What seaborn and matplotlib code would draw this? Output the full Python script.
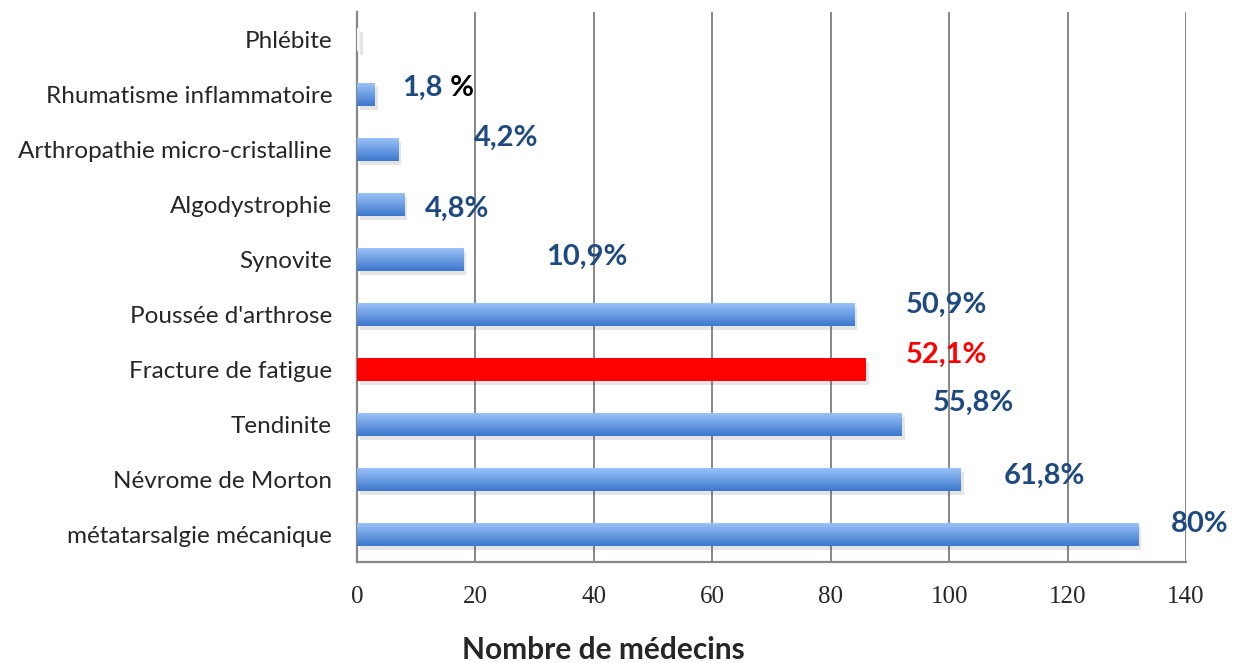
import matplotlib
matplotlib.use('Agg')
import matplotlib.pyplot as plt
import matplotlib.patheffects as pe
import numpy as np
import pandas as pd
import seaborn as sns

# ---------------------------------------------------------
# 1. DATA
# ---------------------------------------------------------
categories = ['Phlébite', 'Rhumatisme inflammatoire', 'Arthropathie micro-cristalline',
              'Algodystrophie', 'Synovite', "Poussée d'arthrose", 'Fracture de fatigue',
              'Tendinite', 'Névrome de Morton', 'métatarsalgie mécanique']
nb_medecins = [0.5, 3, 7, 8, 18, 84, 86, 92, 102, 132]
pourcentages = ['', '1,8', '4,2%', '4,8%', '10,9%', '50,9%', '52,1%', '55,8%', '61,8%', '80%']
x_ticks = [0, 20, 40, 60, 80, 100, 120, 140]

# manual label placement (x in data units, y shift in category units), like the Excel original
label_x = [0, 7.6, 19.8, 11.5, 32.0, 92.7, 92.7, 97.2, 109.2, 137.5]
label_dy = [0, -0.12, -0.22, 0.08, -0.04, -0.17, -0.27, -0.39, -0.07, -0.2]

df = pd.DataFrame({'categorie': categories, 'n': nb_medecins})

BLUE_TXT = '#1F4A80'
GRID = '#868686'

# ---------------------------------------------------------
# 2. FIGURE
# ---------------------------------------------------------
sns.set_style('white')
fig = plt.figure(figsize=(12.35, 6.63), dpi=100)
ax = fig.add_axes([357 / 1235, 1 - 562 / 663, (1186 - 357) / 1235, 550 / 663])

sns.barplot(data=df, y='categorie', x='n', orient='h', color='#6A9BE3',
            width=0.42, ax=ax, zorder=3)

# gradient + shadow on bars
grad = np.linspace(0, 1, 64).reshape(-1, 1)
blue_cmap = matplotlib.colors.LinearSegmentedColormap.from_list('b', ['#9EC4F9', '#3C78CD'])
for i, patch in enumerate(ax.patches):
    patch.set_linewidth(0)
    patch.set_path_effects([pe.SimplePatchShadow(offset=(2, -3), alpha=0.15, shadow_rgbFace='#555555'),
                            pe.Normal()])
    x0, y0 = patch.get_x(), patch.get_y()
    w, h = patch.get_width(), patch.get_height()
    if categories[i] == 'Fracture de fatigue':
        patch.set_facecolor('#FF0000')
        continue
    if categories[i] == 'Phlébite':
        patch.set_facecolor('#F4F4F4')
        continue
    im = ax.imshow(grad, cmap=blue_cmap, aspect='auto', extent=[x0, x0 + w, y0 + h, y0],
                   zorder=4, interpolation='bicubic')
    im.set_clip_path(patch)

# ---------------------------------------------------------
# 3. AXES
# ---------------------------------------------------------
ax.set_xlim(0, 140)
ax.set_ylim(len(categories) - 0.5, -0.5)
ax.set_xticks(x_ticks)
ax.set_xticklabels([str(t) for t in x_ticks], family='Liberation Serif', fontsize=18)
ax.tick_params(axis='x', direction='out', length=7, width=1.3, color=GRID, pad=10)
ax.set_yticks(range(len(categories)))
ax.set_yticklabels(categories, family='Lato', fontsize=17.5)
ax.tick_params(axis='y', length=0, pad=18)
ax.set_yticks(np.arange(-0.5, len(categories), 1), minor=True)
ax.tick_params(axis='y', which='minor', direction='out', length=9, width=1.3, color=GRID)
ax.set_xlabel('')
ax.set_ylabel('')

ax.grid(axis='x', color=GRID, linewidth=1.4, zorder=0)
ax.set_axisbelow(True)
for s in ['top', 'right']:
    ax.spines[s].set_visible(False)
for s in ['left', 'bottom']:
    ax.spines[s].set_color(GRID)
    ax.spines[s].set_linewidth(1.6)

# ---------------------------------------------------------
# 4. PERCENTAGE LABELS
# ---------------------------------------------------------
for i, txt in enumerate(pourcentages):
    if not txt:
        continue
    color = 'red' if categories[i] == 'Fracture de fatigue' else BLUE_TXT
    t = ax.text(label_x[i], i + label_dy[i], txt, color=color, fontsize=21,
                fontweight='bold', family='Lato', va='center', ha='left', zorder=6)
    if categories[i] == 'Rhumatisme inflammatoire':
        ax.annotate(' %', xy=(1, 0), xycoords=t, va='bottom', ha='left',
                    color='black', fontsize=21, fontweight='bold', family='Lato')

fig.text(603 / 1235, 1 - 650 / 663, 'Nombre de médecins', ha='center', va='center',
         fontsize=21.5, fontweight='bold', family='Lato')

fig.savefig('out.png', dpi=100)
